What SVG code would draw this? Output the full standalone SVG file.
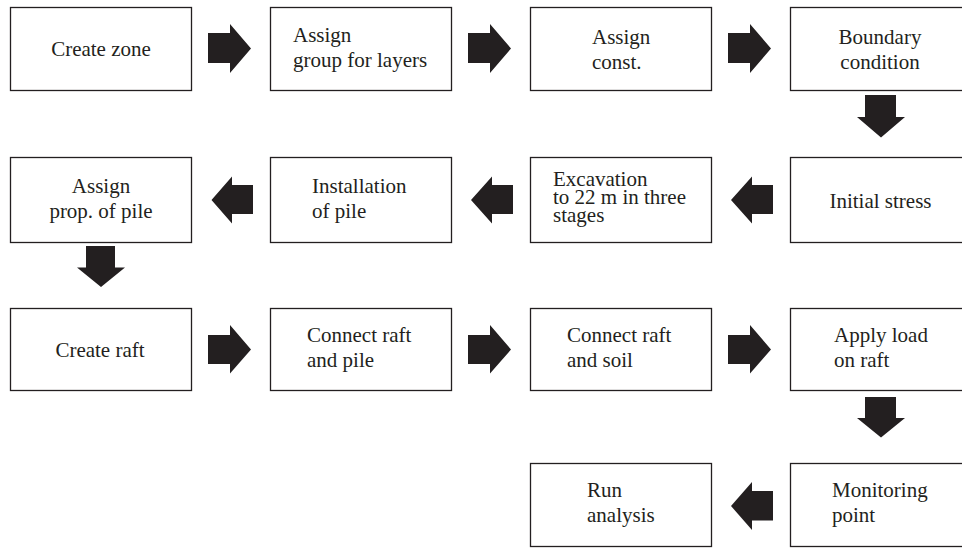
<svg xmlns="http://www.w3.org/2000/svg" width="962" height="548" viewBox="0 0 962 548">
<style>
.box{fill:#fff;stroke:#231f20;stroke-width:1.3}
.arr{fill:#231f20}
.t{font-family:'Liberation Serif','DejaVu Serif','Times New Roman',serif;font-size:21px;fill:#231f20}
.c{text-anchor:middle}
</style>
<rect width="962" height="548" fill="#fff"/>
<g class="t" font-family="'Liberation Serif', 'DejaVu Serif', serif">
<g id="n1"><rect class="box" x="10.5" y="7.5" width="181" height="83"/><text class="c" x="101" y="56">Create zone</text></g>
<g id="n2"><rect class="box" x="270.5" y="7.5" width="181" height="83"/><text x="293" y="42">Assign</text><text x="293" y="67">group for layers</text></g>
<g id="n3"><rect class="box" x="530.5" y="7.5" width="181" height="83"/><text x="592" y="43.5">Assign</text><text x="592" y="68.5">const.</text></g>
<g id="n4"><rect class="box" x="790.5" y="7.5" width="181" height="83"/><text class="c" x="880" y="43.5">Boundary</text><text class="c" x="880" y="68.5">condition</text></g>
<g id="n5"><rect class="box" x="790.5" y="157.5" width="181" height="85"/><text class="c" x="880.5" y="208">Initial stress</text></g>
<g id="n6"><rect class="box" x="530.5" y="157.5" width="181" height="85"/><text x="553" y="186">Excavation</text><text x="553" y="204">to 22 m in three</text><text x="553" y="222">stages</text></g>
<g id="n7"><rect class="box" x="270.5" y="157.5" width="181" height="85"/><text x="312" y="193">Installation</text><text x="312" y="218">of pile</text></g>
<g id="n8"><rect class="box" x="10.5" y="157.5" width="181" height="85"/><text class="c" x="101" y="193">Assign</text><text class="c" x="101" y="218">prop. of pile</text></g>
<g id="n9"><rect class="box" x="10.5" y="308.5" width="181" height="82"/><text class="c" x="100" y="357">Create raft</text></g>
<g id="n10"><rect class="box" x="270.5" y="308.5" width="181" height="82"/><text x="307" y="342">Connect raft</text><text x="307" y="367">and pile</text></g>
<g id="n11"><rect class="box" x="530.5" y="308.5" width="181" height="82"/><text x="567" y="342">Connect raft</text><text x="567" y="367">and soil</text></g>
<g id="n12"><rect class="box" x="790.5" y="308.5" width="181" height="82"/><text x="834" y="342">Apply load</text><text x="834" y="367">on raft</text></g>
<g id="n13"><rect class="box" x="790.5" y="463.5" width="181" height="83"/><text x="832" y="497">Monitoring</text><text x="832" y="522">point</text></g>
<g id="n14"><rect class="box" x="530.5" y="463.5" width="181" height="83"/><text x="587" y="497">Run</text><text x="587" y="522">analysis</text></g>
</g>
<g id="connectors">
<path class="arr" d="M208 33H230V24L251 48.5L230 73V63H208Z"/>
<path class="arr" d="M468 33H490V24L511 48.5L490 73V63H468Z"/>
<path class="arr" d="M728 33H750V24L771 48.5L750 73V63H728Z"/>
<path class="arr" d="M865 95H896V117H905L881 137.5L857 117H865Z"/>
<path class="arr" d="M773 185V214H752V223.5L731 200L752 176.5V185Z"/>
<path class="arr" d="M513 185V214H492V223.5L471 200L492 176.5V185Z"/>
<path class="arr" d="M253 185V214H232V223.5L211.5 200L232 176.5V185Z"/>
<path class="arr" d="M86 246H115V267.5H125L101 287L77 267.5H86Z"/>
<path class="arr" d="M208 335H230V325L251 349.5L230 373.5V364H208Z"/>
<path class="arr" d="M468 335H490V325L511 349.5L490 373.5V364H468Z"/>
<path class="arr" d="M728 335H750V325L771 349.5L750 373.5V364H728Z"/>
<path class="arr" d="M865 397H896V418H905L881 437.5L857 418H865Z"/>
<path class="arr" d="M773 491V520.5H752V530L731 506L752 482V491Z"/>
</g>
</svg>
